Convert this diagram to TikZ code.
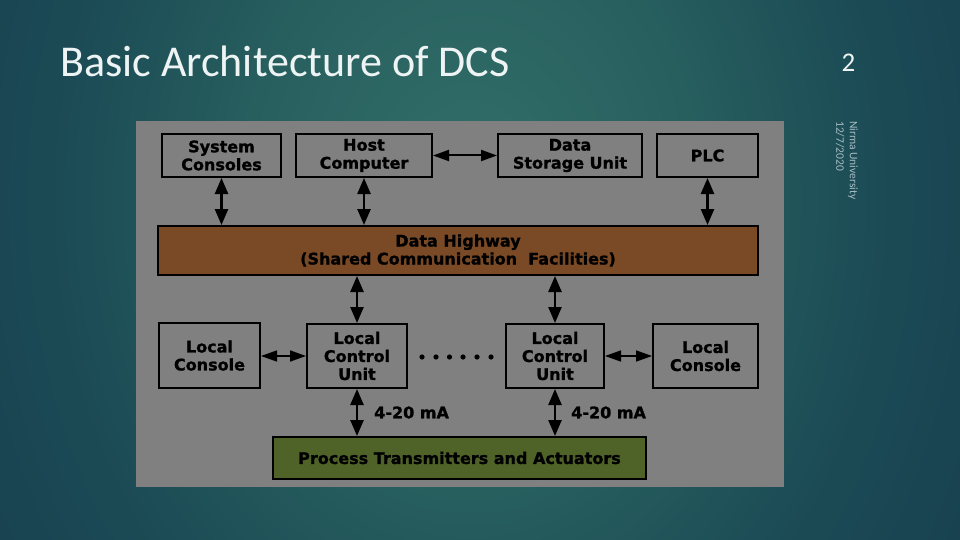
\documentclass[tikz,border=0pt]{standalone}
\usepackage{fontspec}
\usetikzlibrary{arrows.meta,calc}
\newfontfamily\boxfont{DejaVu Sans}[BoldFeatures={FakeBold=1.2}]
\newfontfamily\carl{Carlito}
\definecolor{bgA}{HTML}{336F69}
\definecolor{bgB}{HTML}{28605F}
\definecolor{bgC}{HTML}{1B4A55}
\definecolor{bgD}{HTML}{15394A}
\definecolor{panelgray}{HTML}{808080}
\definecolor{hwbrown}{HTML}{7A4A26}
\definecolor{procgreen}{HTML}{4F6228}
\definecolor{titlecol}{HTML}{EEF4F4}
\definecolor{footcol}{HTML}{A6BCC4}
\pgfdeclareradialshading{bgshade}{\pgfpoint{0bp}{0bp}}{color(0bp)=(bgA); color(7.5bp)=(bgB); color(15bp)=(bgC); color(25bp)=(bgD); color(50bp)=(bgD)}
\tikzset{
  box/.style={draw=black, line width=2pt, font=\boxfont\bfseries\fontsize{16}{18}\selectfont, align=center, inner sep=0pt},
  varrow/.style={line width=2.5pt, {Triangle[length=16pt,width=13pt]}-{Triangle[length=16pt,width=13pt]}},
  harrow/.style={line width=1.5pt, {Triangle[length=16pt,width=11pt]}-{Triangle[length=16pt,width=11pt]}},
  lbl/.style={font=\boxfont\bfseries\fontsize{16}{18}\selectfont, anchor=west, inner sep=0pt},
  dotmark/.style={fill=black}
}
\begin{document}
\begin{tikzpicture}[x=1pt,y=-1pt]
\useasboundingbox (0,0) rectangle (960,540);
\begin{scope}
\clip (0,0) rectangle (960,540);
\shade[shading=bgshade] (-230,-700) rectangle (1170,1100);
\end{scope}
% title and footer
\node[anchor=base west, inner sep=0pt, text=titlecol, font=\carl\fontsize{44}{52}\selectfont] (title) at (60,77) {Basic Architecture of DCS};
\node[anchor=base, inner sep=0pt, text=titlecol, font=\carl\fontsize{27}{32}\selectfont] (pnum) at (848.5,72) {2};
\node[anchor=north west, rotate=-90, inner sep=0pt, text=footcol, align=left, font=\carl\fontsize{11.5}{13.5}\selectfont] (foot) at (858,121) {Nirma University\\12/7/2020};
% panel
\fill[panelgray] (136,121) rectangle (784,487);
% boxes
\node[box, minimum width=119pt, minimum height=43pt] (sys) at (221.5,155.5) {System\\Consoles};
\node[box, minimum width=136pt, minimum height=43pt] (host) at (364,155.5) {Host\\Computer};
\node[box, minimum width=144pt, minimum height=43pt] (dsu) at (570,155.5) {Data\\Storage Unit};
\node[box, minimum width=101pt, minimum height=43pt] (plc) at (707.5,155.5) {PLC};
\node[box, fill=hwbrown, minimum width=600pt, minimum height=49pt] (hw) at (458,250.5) {Data Highway\\(Shared Communication\ \ Facilities)};
\node[box, minimum width=101pt, minimum height=65pt] (lcl) at (209.5,355.5) {Local\\Console};
\node[box, minimum width=100pt, minimum height=64pt] (lcu1) at (357,356) {Local\\Control\\Unit};
\node[box, minimum width=98pt, minimum height=64pt] (lcu2) at (555,356) {Local\\Control\\Unit};
\node[box, minimum width=105pt, minimum height=64pt] (lcr) at (705.5,356) {Local\\Console};
\node[box, fill=procgreen, minimum width=373pt, minimum height=42pt] (proc) at (459.5,458) {Process Transmitters and Actuators};
% connectors
\draw[varrow] (sys.south) -- (sys.south |- hw.north);
\draw[varrow] (host.south) -- (host.south |- hw.north);
\draw[varrow] (plc.south) -- (plc.south |- hw.north);
\draw[harrow, line width=2pt] (host.east) -- (dsu.west);
\draw[varrow] (lcu1.north |- hw.south) -- (lcu1.north);
\draw[varrow] (lcu2.north |- hw.south) -- (lcu2.north);
\draw[harrow] (lcl.east |- lcu1.west) -- (lcu1.west);
\draw[harrow] (lcu2.east) -- (lcr.west |- lcu2.east);
\draw[varrow] (lcu1.south) -- (lcu1.south |- proc.north) node[lbl, midway, xshift=16pt] (ma1) {4-20 mA};
\draw[varrow] (lcu2.south) -- (lcu2.south |- proc.north) node[lbl, midway, xshift=15pt] (ma2) {4-20 mA};
% dots
\foreach \dx in {422,436,449.5,463,477,491}
  \fill[dotmark] (\dx,357) circle (2.6pt);
\end{tikzpicture}
\end{document}
